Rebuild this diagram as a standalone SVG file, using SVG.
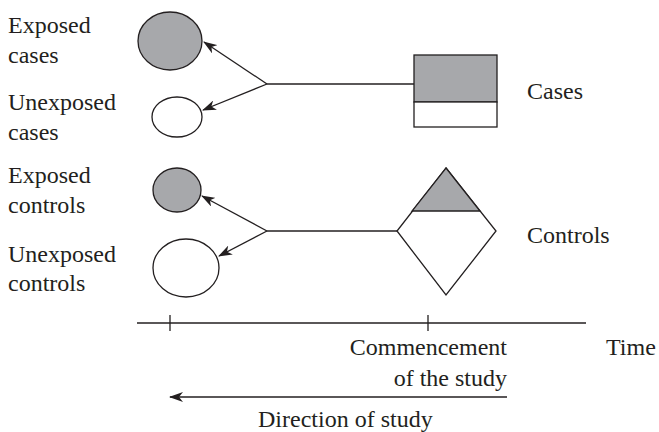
<svg xmlns="http://www.w3.org/2000/svg" width="659" height="432" viewBox="0 0 659 432">
<style>
text{font-family:"Liberation Serif","Times New Roman",serif;font-size:24px;fill:#231f20}
.s{stroke:#231f20;stroke-width:1.3;fill:none}
.g{fill:#a7a8ab;stroke:#231f20;stroke-width:1.3}
.w{fill:#fff;stroke:#231f20;stroke-width:1.3}
</style>
<defs>
<marker id="ah" viewBox="0 0 14 10" refX="13" refY="5" markerWidth="14" markerHeight="10" markerUnits="userSpaceOnUse" orient="auto">
<path d="M0,0 L14,5 L0,10 L4,5 Z" fill="#231f20"/>
</marker>
</defs>
<rect width="659" height="432" fill="#fff"/>
<g id="label-left">
<text x="8" y="33">Exposed</text>
<text x="8" y="63">cases</text>
<text x="8" y="110">Unexposed</text>
<text x="8" y="140">cases</text>
<text x="8" y="183">Exposed</text>
<text x="8" y="213">controls</text>
<text x="8" y="262">Unexposed</text>
<text x="8" y="291">controls</text>
</g>
<g id="exposed-cases"><ellipse class="g" cx="170" cy="41" rx="32" ry="29"/></g>
<g id="unexposed-cases"><ellipse class="w" cx="177" cy="117" rx="25" ry="20"/></g>
<g id="exposed-controls"><ellipse class="g" cx="177" cy="190" rx="24" ry="22"/></g>
<g id="unexposed-controls"><ellipse class="w" cx="186" cy="268" rx="33" ry="29"/></g>
<g id="cases">
<rect class="g" x="414" y="55" width="83" height="47"/>
<rect class="w" x="414" y="102" width="83" height="25"/>
<text x="527" y="99">Cases</text>
</g>
<g id="controls">
<polygon class="w" points="446,168 496,231 446,295 397,231"/>
<polygon class="g" points="446,168 480,211 412,211"/>
<text x="527" y="243">Controls</text>
</g>
<g id="connectors">
<line class="s" x1="267" y1="84" x2="414" y2="84"/>
<line class="s" x1="267" y1="84" x2="204" y2="42" marker-end="url(#ah)"/>
<line class="s" x1="267" y1="84" x2="203" y2="110" marker-end="url(#ah)"/>
<line class="s" x1="267" y1="231" x2="397" y2="231"/>
<line class="s" x1="267" y1="231" x2="202" y2="196" marker-end="url(#ah)"/>
<line class="s" x1="267" y1="231" x2="219" y2="256" marker-end="url(#ah)"/>
</g>
<g id="timeline">
<line class="s" x1="137" y1="323" x2="586" y2="323"/>
<line class="s" x1="170" y1="315" x2="170" y2="331"/>
<line class="s" x1="428" y1="315" x2="428" y2="331"/>
<text x="507" y="355" text-anchor="end">Commencement</text>
<text x="507" y="386" text-anchor="end">of the study</text>
<text x="606" y="355">Time</text>
</g>
<g id="direction">
<line class="s" x1="507" y1="397" x2="170" y2="397" marker-end="url(#ah)"/>
<text x="258" y="427">Direction of study</text>
</g>
</svg>
